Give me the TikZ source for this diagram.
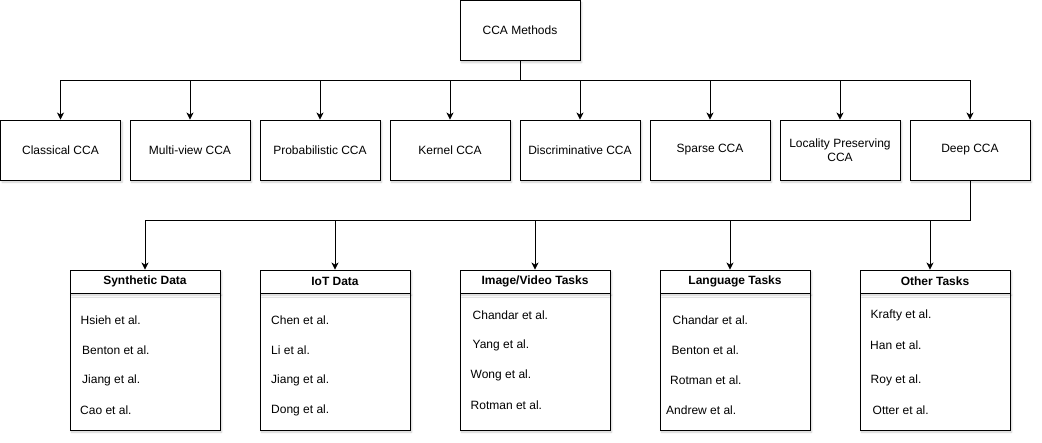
\documentclass[tikz,border=0pt]{standalone}
\usepackage{fontspec}
\setmainfont{Liberation Sans}
\usetikzlibrary{arrows.meta,shadows.blur,positioning}
\begin{document}
\begin{tikzpicture}[x=1pt,y=-1pt,
  box/.style={draw=black,line width=0.9pt,fill=white,inner sep=0pt,
    font=\fontsize{12}{14.5}\selectfont,align=center,
    blur shadow={shadow xshift=1.5pt,shadow yshift=-2pt,shadow blur radius=2pt,shadow opacity=20,shadow blur steps=6}},
  mbox/.style={box,minimum width=120pt,minimum height=60pt},
  hbox/.style={box,minimum width=150pt,minimum height=23pt,font=\fontsize{12}{14.5}\selectfont\bfseries},
  bbox/.style={box,minimum width=150pt,minimum height=137pt},
  item/.style={anchor=west,inner sep=0pt,font=\fontsize{12}{14.5}\selectfont},
  arr/.style={draw=black,line width=0.9pt,-{Stealth[length=7pt,width=7pt,inset=2pt]}},
  ln/.style={draw=black,line width=0.9pt}]
\useasboundingbox (0,0) rectangle (1042,442);

\node[mbox] (cca) at (520,30.5) {CCA Methods};

\node[mbox] (c1) at (60.5,150) {Classical CCA};
\node[mbox] (c2) at (190,150) {Multi-view CCA};
\node[mbox] (c3) at (320,150) {Probabilistic CCA};
\node[mbox] (c4) at (450,150) {Kernel CCA};
\node[mbox] (c5) at (580,150) {Discriminative CCA};
\node[mbox] (c6) at (710,150) {Sparse CCA};
\node[mbox] (c7) at (840,150) {Locality Preserving\\CCA};
\node[mbox] (c8) at (970,150) {Deep CCA};

\coordinate (bus1) at (520,80);
\coordinate (bus2) at (970,220);

\foreach \n in {c1,c2,c3,c4,c5,c6,c7,c8}
  \draw[arr] (cca.south) -- (cca.south |- bus1) -| (\n.north);

% lower boxes
\node[bbox] (b1) at (145,361.5) {};
\node[hbox] (h1) at (145,281.5) {Synthetic Data};
\node[bbox] (b2) at (335,361.5) {};
\node[hbox] (h2) at (335,281.5) {IoT Data};
\node[bbox] (b3) at (535,361.5) {};
\node[hbox] (h3) at (535,281.5) {Image/Video Tasks};
\node[bbox] (b4) at (735,361.5) {};
\node[hbox] (h4) at (735,281.5) {Language Tasks};
\node[bbox] (b5) at (935,361.5) {};
\node[hbox] (h5) at (935,281.5) {Other Tasks};

\draw[arr] (c8.south) -- (bus2) -| (h1.north);
\draw[arr] (c8.south) -- (bus2) -| (h2.north);
\draw[arr] (c8.south) -- (bus2) -| (h3.north);
\draw[arr] (c8.south) -- (bus2) -| ([xshift=-5pt]h4.north);
\draw[arr] (c8.south) -- (bus2) -| ([xshift=-5pt]h5.north);

% items
\node[item] (s1) at (80.5,320) {Hsieh et al.};
\node[item] (s2) at (82,350) {Benton et al.};
\node[item] (s3) at (82,380) {Jiang et al.};
\node[item] (s4) at (80,410) {Cao et al.};

\node[item] (i1) at (271,320) {Chen et al.};
\node[item] (i2) at (271,350) {Li et al.};
\node[item] (i3) at (271,380) {Jiang et al.};
\node[item] (i4) at (271,410) {Dong et al.};

\node[item] (v1) at (472.5,315) {Chandar et al.};
\node[item] (v2) at (472.5,345) {Yang et al.};
\node[item] (v3) at (470.5,375) {Wong et al.};
\node[item] (v4) at (470.5,405) {Rotman et al.};

\node[item] (l1) at (672.5,320) {Chandar et al.};
\node[item] (l2) at (671.5,350) {Benton et al.};
\node[item] (l3) at (670,380) {Rotman et al.};
\node[item] (l4) at (666,410) {Andrew et al.};

\node[item] (o1) at (870.5,315) {Krafty et al.};
\node[item] (o2) at (870,345) {Han et al.};
\node[item] (o3) at (870.5,380) {Roy et al.};
\node[item] (o4) at (872.5,410) {Otter et al.};
\end{tikzpicture}
\end{document}
